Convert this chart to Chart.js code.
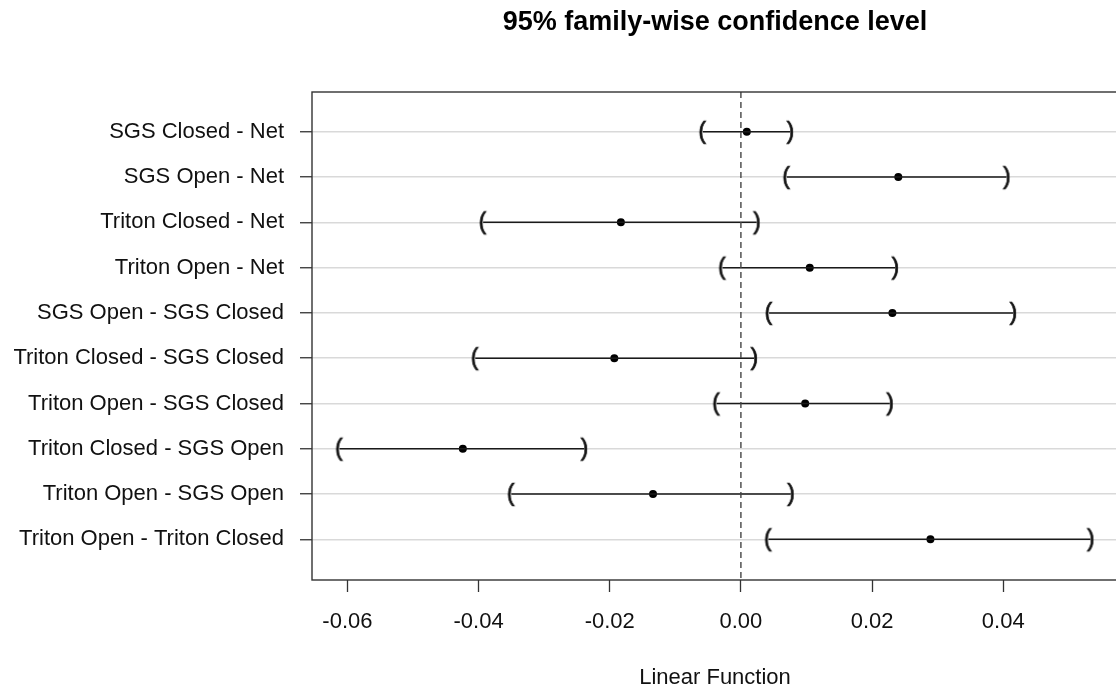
<!DOCTYPE html>
<html>
<head>
<meta charset="utf-8">
<script src="https://cdn.jsdelivr.net/npm/chart.js@4.4.1/dist/chart.umd.min.js"></script>
<style>
  html, body { margin: 0; padding: 0; background: #fff; overflow: hidden; }
  #clip { width: 1116px; height: 689px; overflow: hidden; position: relative; }
  canvas { display: block; }
</style>
</head>
<body>
<div id="clip"><canvas id="chart" width="1120" height="689"></canvas></div>
<script>
// Pairwise comparisons (top to bottom)
const categories = [
  'SGS Closed - Net',
  'SGS Open - Net',
  'Triton Closed - Net',
  'Triton Open - Net',
  'SGS Open - SGS Closed',
  'Triton Closed - SGS Closed',
  'Triton Open - SGS Closed',
  'Triton Closed - SGS Open',
  'Triton Open - SGS Open',
  'Triton Open - Triton Closed'
];
// Point estimates of each difference
const estimates = [0.0009, 0.0240, -0.0183, 0.0105, 0.0231, -0.0193, 0.0098, -0.0424, -0.0134, 0.0289];
// Lower and upper simultaneous confidence limits
const lowerBounds = [-0.0058, 0.0070, -0.0393, -0.0028, 0.0043, -0.0405, -0.0037, -0.0612, -0.0350, 0.0042];
const upperBounds = [0.0075, 0.0405, 0.0024, 0.0235, 0.0415, 0.0020, 0.0227, -0.0239, 0.0076, 0.0533];
// X axis ticks
const xTicks = [-0.06, -0.04, -0.02, 0.00, 0.02, 0.04];

const X_MIN = -0.0654, X_MAX = 0.0575;
const Y_MIN = 0.12, Y_MAX = 10.9;
const FONT = '"Liberation Sans", Arial, sans-serif';

// Bracket glyphs used as point markers for the interval ends
function glyphMarker(ch, size) {
  const c = document.createElement('canvas');
  const w = 18, h = 30;
  c.width = w; c.height = h;
  const g = c.getContext('2d');
  g.font = size + 'px ' + FONT;
  g.fillStyle = '#111';
  g.strokeStyle = '#111';
  g.lineWidth = 0.7;
  const m = g.measureText(ch);
  const inkW = m.actualBoundingBoxLeft + m.actualBoundingBoxRight;
  const inkH = m.actualBoundingBoxAscent + m.actualBoundingBoxDescent;
  const x = (w - inkW) / 2 + m.actualBoundingBoxLeft;
  const y = (h - inkH) / 2 + m.actualBoundingBoxAscent;
  g.fillText(ch, x, y);
  g.strokeText(ch, x, y);
  return c;
}
const openBracket = glyphMarker('(', 23);
const closeBracket = glyphMarker(')', 23);

const rows = categories.map((_, i) => i + 1);

// Interval segments, separated by gaps
const segments = [];
rows.forEach((r, i) => {
  segments.push({ x: lowerBounds[i], y: r });
  segments.push({ x: upperBounds[i], y: r });
  segments.push({ x: upperBounds[i], y: null });
});

const frame = {
  id: 'frame',
  afterDatasetsDraw(chart) {
    const a = chart.chartArea, ctx = chart.ctx;
    ctx.save();
    ctx.strokeStyle = '#333';
    ctx.lineWidth = 1.4;
    ctx.strokeRect(a.left, a.top, a.right - a.left, a.bottom - a.top);
    ctx.restore();
  }
};

function noEdgePadding(scale) {
  scale.paddingLeft = 0;
  scale.paddingRight = 0;
  scale.paddingTop = 0;
  scale.paddingBottom = 0;
}

new Chart(document.getElementById('chart'), {
  type: 'scatter',
  data: {
    datasets: [
      {
        data: [{ x: 0, y: Y_MIN }, { x: 0, y: Y_MAX }],
        showLine: true,
        borderColor: '#444',
        borderWidth: 1.4,
        borderDash: [6, 4],
        pointRadius: 0
      },
      {
        data: segments,
        showLine: true,
        spanGaps: false,
        borderColor: '#1a1a1a',
        borderWidth: 1.5,
        pointRadius: 0
      },
      {
        data: rows.map((r, i) => ({ x: lowerBounds[i], y: r })),
        pointStyle: openBracket,
        pointRadius: 8
      },
      {
        data: rows.map((r, i) => ({ x: upperBounds[i], y: r })),
        pointStyle: closeBracket,
        pointRadius: 8
      },
      {
        data: rows.map((r, i) => ({ x: estimates[i], y: r })),
        pointStyle: 'circle',
        pointRadius: 4,
        backgroundColor: '#000',
        borderColor: '#000',
        borderWidth: 0
      }
    ]
  },
  options: {
    responsive: false,
    animation: false,
    events: [],
    layout: { autoPadding: false, padding: { left: 0, right: 2, top: 0, bottom: 0 } },
    plugins: {
      legend: { display: false },
      tooltip: { enabled: false },
      title: {
        display: true,
        text: '95% family-wise confidence level',
        fullSize: false,
        color: '#000',
        font: { family: FONT, size: 27, weight: 'bold', lineHeight: 1.2 },
        padding: { top: 6, bottom: 53.6 }
      }
    },
    scales: {
      x: {
        type: 'linear',
        min: X_MIN,
        max: X_MAX,
        afterBuildTicks(scale) { scale.ticks = xTicks.map(v => ({ value: v })); },
        afterFit(scale) { scale.height = 109; noEdgePadding(scale); },
        border: { display: false },
        grid: {
          drawOnChartArea: false,
          drawTicks: true,
          tickLength: 12,
          tickColor: '#333',
          tickWidth: 1.3
        },
        ticks: {
          color: '#111',
          padding: 17,
          maxRotation: 0,
          font: { family: FONT, size: 22 },
          callback: v => v.toFixed(2)
        },
        title: {
          display: true,
          text: 'Linear Function',
          color: '#111',
          font: { family: FONT, size: 22, lineHeight: 1.2 },
          padding: { top: 0, bottom: -2 }
        }
      },
      y: {
        type: 'linear',
        reverse: true,
        min: Y_MIN,
        max: Y_MAX,
        afterBuildTicks(scale) { scale.ticks = rows.map(v => ({ value: v })); },
        afterFit(scale) { scale.width = 312; noEdgePadding(scale); },
        border: { display: false },
        grid: {
          color: '#d9d9d9',
          lineWidth: 1.5,
          drawTicks: true,
          tickLength: 12,
          tickColor: '#333',
          tickWidth: 1.3
        },
        ticks: {
          color: '#111',
          padding: 16,
          font: { family: FONT, size: 22 },
          callback: v => categories[Math.round(v) - 1] || ''
        }
      }
    }
  },
  plugins: [frame]
});
</script>
</body>
</html>
